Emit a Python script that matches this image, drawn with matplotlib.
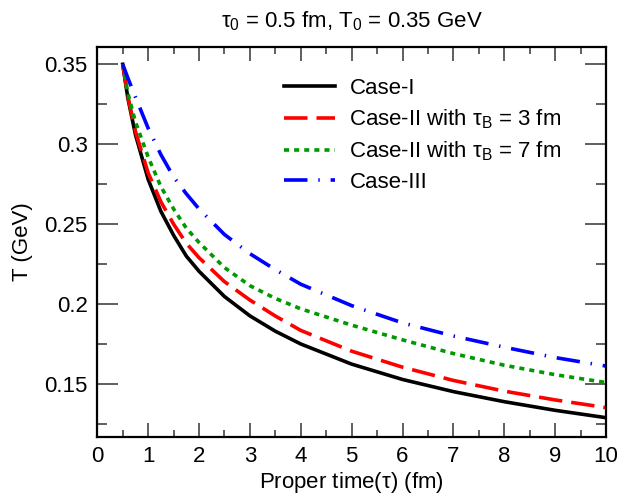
import matplotlib
matplotlib.use("Agg")
import matplotlib.pyplot as plt
from matplotlib.ticker import MultipleLocator, FuncFormatter

plt.rcParams['font.family'] = ['Liberation Sans', 'DejaVu Sans']
plt.rcParams['mathtext.fontset'] = 'custom'
plt.rcParams['mathtext.rm'] = 'Liberation Sans'
plt.rcParams['mathtext.it'] = 'Liberation Sans'

# proper time grid (fm)
tau = [0.5, 0.6, 0.75, 1.0, 1.25, 1.5, 1.75, 2.0, 2.5, 3.0, 3.5, 4.0,
       5.0, 6.0, 7.0, 8.0, 9.0, 10.0]

# temperature (GeV) for each case
T_case1 = [0.350, 0.329, 0.306, 0.278, 0.258, 0.243, 0.230, 0.2205, 0.2047,
           0.1926, 0.1830, 0.1750, 0.1624, 0.1528, 0.1452, 0.1389, 0.1335, 0.1289]
T_case2_3 = [0.350, 0.330, 0.308, 0.282, 0.264, 0.250, 0.238, 0.229, 0.214,
             0.2025, 0.1925, 0.1835, 0.1705, 0.1605, 0.1522, 0.1455, 0.1400, 0.1352]
T_case2_7 = [0.350, 0.332, 0.314, 0.292, 0.2735, 0.2595, 0.2475, 0.2385, 0.2228,
             0.2115, 0.2035, 0.1970, 0.1868, 0.1776, 0.1690, 0.1617, 0.1558, 0.1509]
T_case3 = [0.350, 0.3415, 0.3295, 0.3100, 0.2935, 0.2795, 0.2690, 0.2595, 0.2435,
           0.2315, 0.2215, 0.2124, 0.1990, 0.1882, 0.1800, 0.1730, 0.1665, 0.1612]

labels = ['Case-I',
          r'Case-II with $\tau_{\rm B}$ = 3 fm',
          r'Case-II with $\tau_{\rm B}$ = 7 fm',
          'Case-III']

fig = plt.figure(figsize=(6.43, 4.98), dpi=100)
ax = fig.add_axes([0.1513, 0.1231, 0.7912, 0.7831])

lw = 2.6
ax.plot(tau, T_case1, color='black', lw=lw, label=labels[0])
ax.plot(tau, T_case2_3, color='red', lw=lw, dashes=(6.5, 2.5), label=labels[1])
ax.plot(tau, T_case2_7, color='#009900', lw=lw, dashes=(1.4, 1.4), label=labels[2])
ax.plot(tau, T_case3, color='blue', lw=lw, dashes=(6.5, 3.0, 0.4, 3.0), label=labels[3])

ax.set_xlim(0, 10)
ax.set_ylim(0.117, 0.361)
ax.xaxis.set_major_locator(MultipleLocator(1))
ax.xaxis.set_minor_locator(MultipleLocator(0.5))
ax.yaxis.set_major_locator(MultipleLocator(0.05))
ax.yaxis.set_minor_locator(MultipleLocator(0.025))
ax.yaxis.set_major_formatter(FuncFormatter(lambda v, p: f'{v:g}'))

ax.tick_params(which='both', direction='in', top=True, right=True,
               labelsize=16, width=1.2, color='#444444')
ax.tick_params(axis='x', which='major', length=10, pad=7)
ax.tick_params(axis='x', which='minor', length=5)
ax.tick_params(axis='y', which='major', length=15, pad=7)
ax.tick_params(axis='y', which='minor', length=7.5)
for s in ax.spines.values():
    s.set_linewidth(1.6)

ax.set_xlabel(r'Proper time($\tau$) (fm)', fontsize=16, labelpad=2)
ax.set_ylabel('T (GeV)', fontsize=16, labelpad=8)
ax.set_title(r'$\tau_0$ = 0.5 fm, T$_0$ = 0.35 GeV', fontsize=16, pad=14)

ax.legend(loc='upper left', bbox_to_anchor=(0.345, 0.948), frameon=False,
          borderpad=0, fontsize=16, handlelength=2.3, handletextpad=0.65,
          labelspacing=0.38)

fig.savefig('out.png', dpi=100)
